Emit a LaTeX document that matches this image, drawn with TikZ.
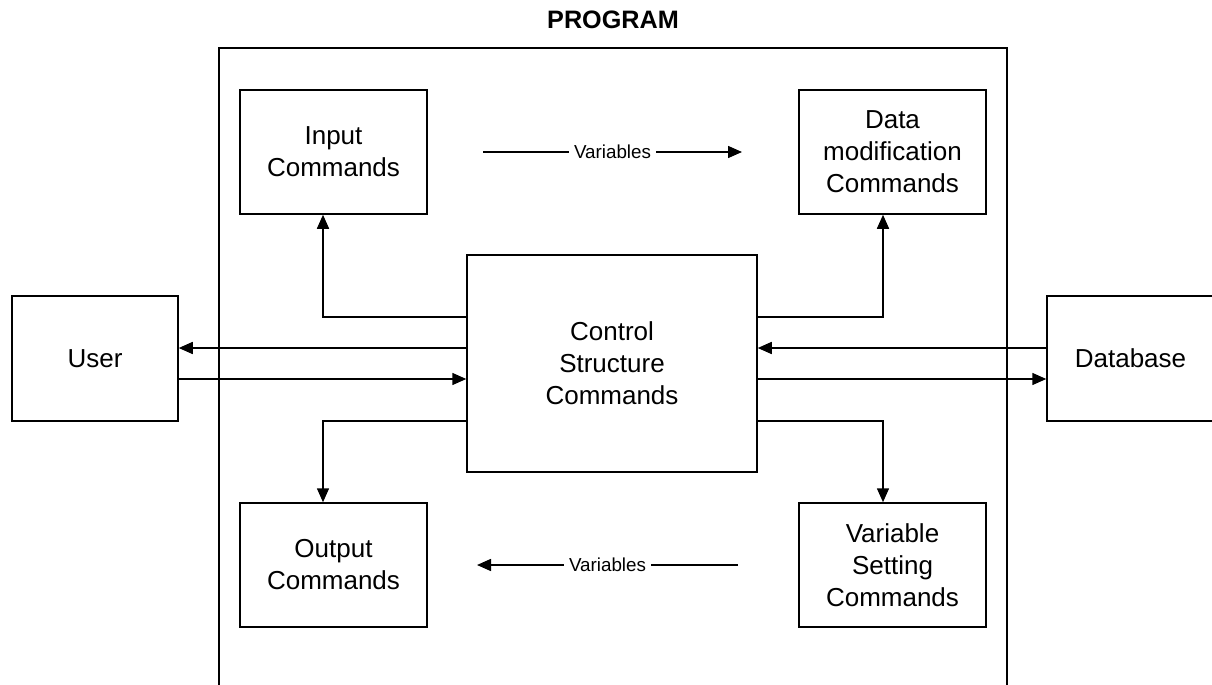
\documentclass[tikz,border=0pt]{standalone}
\usepackage{fontspec}
\setmainfont{Liberation Sans}
\usetikzlibrary{arrows.meta}

\tikzset{
    block/.style={draw, line width=0.75pt, inner sep=0pt, align=center,
        minimum width=93.5pt, minimum height=62pt,
        font=\fontsize{13}{16}\selectfont},
    conn/.style={->, line width=0.75pt},
    varlabel/.style={fill=white, inner sep=2.5pt, font=\fontsize{9.4}{11}\selectfont},
    frame/.style={line width=0.75pt}
}

\begin{document}
\begin{tikzpicture}[>={Triangle[length=7pt,width=6pt]}, x=0.5pt, y=-0.5pt, node distance=279.5pt]
                \useasboundingbox (0,0) rectangle (1212,685);
                % the program frame, open at the bottom
                \draw[frame] (219,685) |- (1007,48) -- (1007,685);
                \node[font=\bfseries\fontsize{12.6}{15}\selectfont] (program) at (613,20) {PROGRAM};

                \node[block] (input) at (333.5,152) {Input\\Commands};
                \node[block] (data) [right of = input] {Data\\modification\\Commands};
                \node[block] (output) [below of = input, node distance=206.5pt] {Output\\Commands};
                \node[block] (setting) [right of = output] {Variable\\Setting\\Commands};
                \node[block, minimum width=145pt, minimum height=108.5pt] (control) at (612,363.5) {Control\\Structure\\Commands};
                \node[block, minimum width=83pt, minimum height=62.5pt] (user) at (95,358.5) {User};
                \node[block, minimum width=83.5pt, minimum height=62.5pt] (database) at (1130.5,358.5) {Database};

                % levels of the connectors
                \coordinate (lvlA) at (0,317);
                \coordinate (lvlB) at (0,348);
                \coordinate (lvlC) at (0,379);
                \coordinate (lvlD) at (0,421);

                \draw[conn] (control.west |- lvlA) -| ([xshift=-5.25pt]input.south);
                \draw[conn] (control.east |- lvlA) -| ([xshift=-4.75pt]data.south);
                \draw[conn] (control.west |- lvlD) -| ([xshift=-5.25pt]output.north);
                \draw[conn] (control.east |- lvlD) -| ([xshift=-4.75pt]setting.north);

                \draw[conn] (control.west |- lvlB) -- (user.east |- lvlB);
                \draw[conn] (user.east |- lvlC) -- (control.west |- lvlC);
                \draw[conn] (database.west |- lvlB) -- (control.east |- lvlB);
                \draw[conn] (control.east |- lvlC) -- (database.west |- lvlC);

                % variables passed between the command boxes
                \coordinate (varsInL) at (483,152);
                \coordinate (varsInR) at (742,152);
                \coordinate (varsOutL) at (477,565);
                \coordinate (varsOutR) at (738,565);
                \draw[conn] (varsInL) -- node[varlabel] {Variables} (varsInR);
                \draw[conn] (varsOutR) -- node[varlabel] {Variables} (varsOutL);
\end{tikzpicture}
\end{document}
